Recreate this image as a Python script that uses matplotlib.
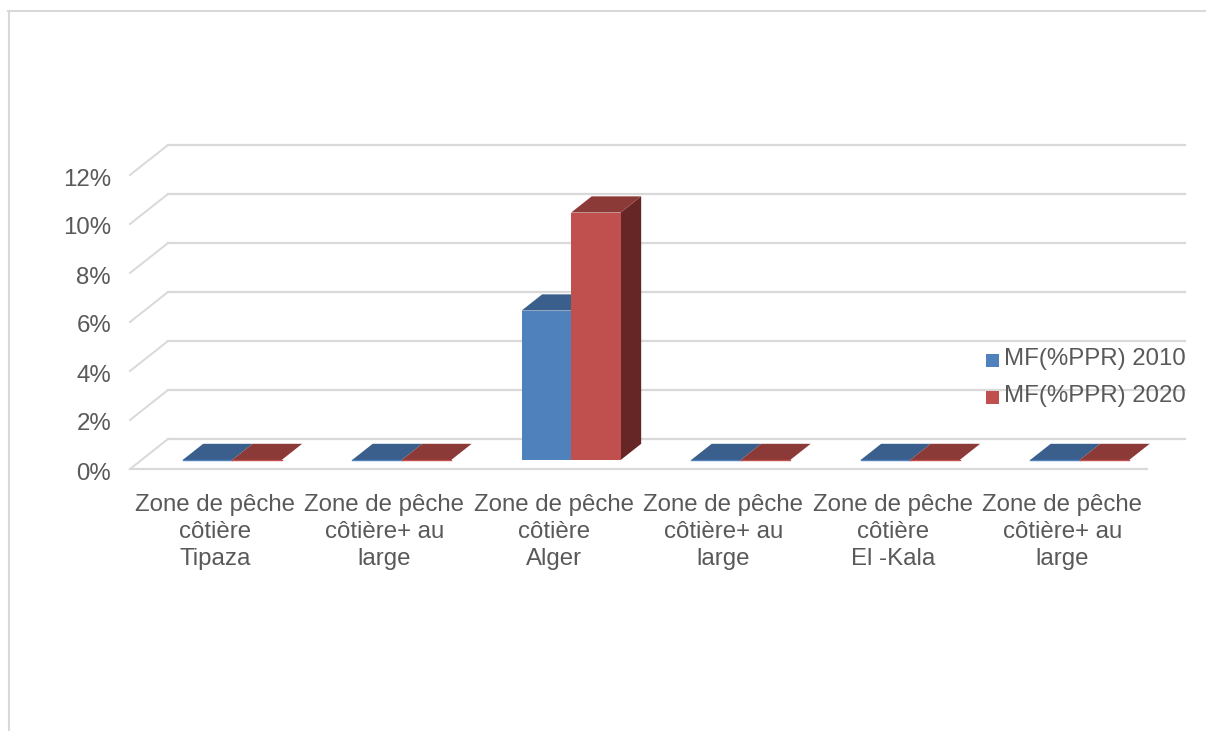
import matplotlib
matplotlib.use("Agg")
import matplotlib.pyplot as plt
from matplotlib.patches import Polygon, Rectangle
from matplotlib.lines import Line2D

# Données
categories = [
    "Zone de pêche\ncôtière\nTipaza",
    "Zone de pêche\ncôtière+ au\nlarge",
    "Zone de pêche\ncôtière\nAlger",
    "Zone de pêche\ncôtière+ au\nlarge",
    "Zone de pêche\ncôtière\nEl -Kala",
    "Zone de pêche\ncôtière+ au\nlarge",
]
series_names = ["MF(%PPR) 2010", "MF(%PPR) 2020"]
mf_2010 = [0, 0, 6.1, 0, 0, 0]
mf_2020 = [0, 0, 10.1, 0, 0, 0]
y_ticks = [0, 2, 4, 6, 8, 10, 12]

plt.rcParams['font.family'] = ['Liberation Sans', 'DejaVu Sans']
TXT = '#595959'
GRID = '#D9D9D9'

W, H = 1206, 731
fig = plt.figure(figsize=(W / 100, H / 100), dpi=100)
ax = fig.add_axes([0, 0, 1, 1])
ax.set_axis_off()

# échelle : pixels -> unités de données
CAT_PX, PCT_PX = 169.5, 24.5
X0_PX, Y0_PX = 130, 469
def fx(px):
    return (px - X0_PX) / CAT_PX - 0.5
def fy(py):
    return (Y0_PX - py) / PCT_PX
ax.set_xlim(fx(0), fx(W))
ax.set_ylim(fy(H), fy(0))

# profondeur (projection oblique)
DX, DY = 38 / CAT_PX, 30 / PCT_PX
n = len(categories)
xl, xr = -0.5, n - 0.5

# grille : murs arrière + diagonales
for v in y_ticks:
    ax.plot([xl, xl + DX], [v, v + DY], color=GRID, lw=1.4, zorder=1)
    ax.plot([xl + DX, xr + DX], [v + DY, v + DY], color=GRID, lw=1.6, zorder=1)
    ax.text(fx(111), v - 10.5 / PCT_PX, f"{v}%", ha='right', va='baseline',
            fontsize=17.3, color=TXT)
ax.plot([xl, xr], [0, 0], color=GRID, lw=1.6, zorder=1)

# barres 3D
BW = 49.5 / CAT_PX
Z0, Z1 = 0.3, 0.84
SHIFT = 6 / CAT_PX
colors = [
    {'front': '#4F81BD', 'top': '#3A5F8C', 'side': '#2C4A70'},
    {'front': '#C0504D', 'top': '#8C3A38', 'side': '#652625'},
]
dz = Z1 - Z0
for i in range(n):
    for j, vals in enumerate([mf_2010, mf_2020]):
        v = vals[i]
        c = colors[j]
        x0 = i - BW + j * BW + Z0 * DX + SHIFT
        x1 = x0 + BW
        b = Z0 * DY
        t = b + v
        ex, ey = dz * DX, dz * DY
        side = Polygon([(x1, b), (x1, t), (x1 + ex, t + ey), (x1 + ex, b + ey)],
                       closed=True, fc=c['side'], ec='none', zorder=3)
        top = Polygon([(x0, t), (x1, t), (x1 + ex, t + ey), (x0 + ex, t + ey)],
                      closed=True, fc=c['top'], ec='none', zorder=3)
        ax.add_patch(side)
        ax.add_patch(top)
        if v > 0:
            ax.add_patch(Rectangle((x0, b), BW, v, fc=c['front'], ec='none', zorder=3))
        else:
            ax.plot([x0, x1], [b, b], color=c['front'], lw=1, zorder=3)

# étiquettes des catégories (alignées sur la ligne de base de la dernière ligne)
for i, lab in enumerate(categories):
    ax.text(i, fy(512 + 2 * 26.5), lab, ha='center', va='baseline', fontsize=17.3,
            color=TXT, linespacing=1.3)

# légende
leg_cols = ['#4F81BD', '#C0504D']
for k, name in enumerate(series_names):
    base = 365 + k * 37
    ax.add_patch(Rectangle((fx(986), fy(base + 2)), 13 / CAT_PX, 13 / PCT_PX,
                           fc=leg_cols[k], ec='none', zorder=4))
    ax.text(fx(1004), fy(base), name, ha='left', va='baseline', fontsize=17.3,
            color=TXT, zorder=4)

# cadre de la zone de graphique
fig.add_artist(Line2D([8 / W, 1], [1 - 11 / H, 1 - 11 / H], color=GRID, lw=1.5))
fig.add_artist(Line2D([9 / W, 9 / W], [0, 1 - 11 / H], color=GRID, lw=1.5))

fig.savefig("out.png", dpi=100)
